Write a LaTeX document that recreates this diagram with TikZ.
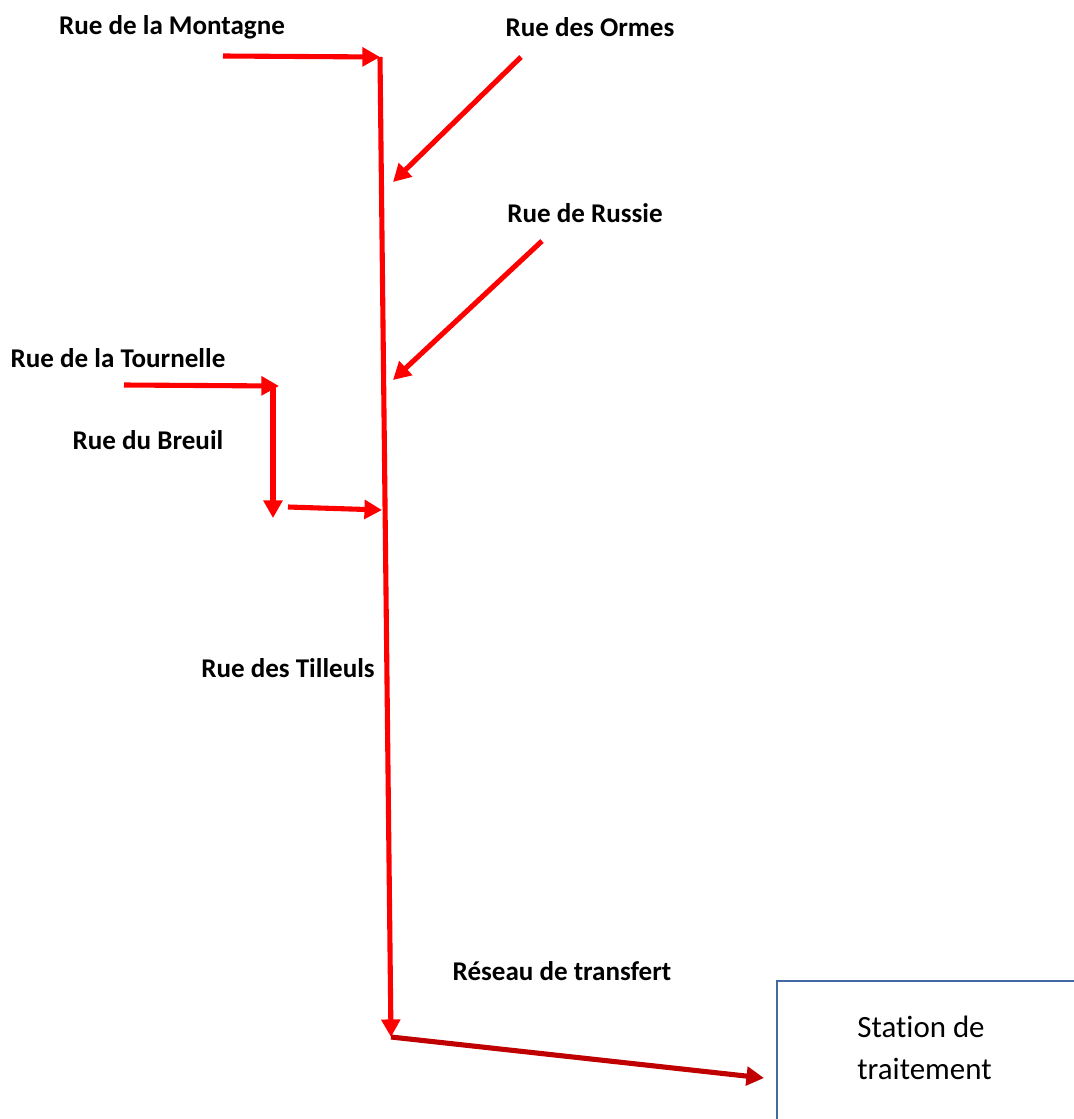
\documentclass[tikz,border=0pt]{standalone}
\usepackage{fontspec}
\setmainfont[Ligatures=NoCommon]{Carlito}
\usetikzlibrary{arrows.meta}
\definecolor{rouge}{RGB}{255,0,0}
\definecolor{rougefonce}{RGB}{192,0,0}
\definecolor{bleubord}{RGB}{68,104,164}
\tikzset{
	rue/.style={font=\bfseries\fontsize{15.4}{17}\selectfont, inner sep=0pt},
	egout/.style={draw=rouge, line width=2.9pt, -{Triangle[length=10pt,width=10.5pt]}},
	transfert/.style={draw=rougefonce, line width=2.9pt, -{Triangle[length=10pt,width=10.5pt]}}
}
\begin{document}
\begin{tikzpicture}[x=0.02cm, y=-0.02cm]
	\useasboundingbox (0,0) rectangle (1074,1119);
	
	% noms des rues
	\node[rue] (montagne) at (172,27) {Rue de la Montagne};
	\node[rue] (ormes) at (590,27) {Rue des Ormes};
	\node[rue] (russie) at (585,213) {Rue de Russie};
	\node[rue] (tournelle) at (118,358) {Rue de la Tournelle};
	\node[rue] (breuil) at (148,440) {Rue du Breuil};
	\node[rue] (tilleuls) at (288,668) {Rue des Tilleuls};
	\node[rue] (reseau) at (562,971) {Réseau de transfert};
	
	% points du reseau
	\coordinate (haut) at (380,57);
	\coordinate (bas) at (391,1037);
	\coordinate (montagneA) at (223,56);
	\coordinate (ormesA) at (521,57);
	\coordinate (ormesB) at (393,182);
	\coordinate (russieA) at (542,241);
	\coordinate (russieB) at (393,380);
	\coordinate (tournelleA) at (124,385);
	\coordinate (tournelleB) at (279,386);
	\coordinate (coude) at (273,386);
	\coordinate (breuilA) at (273,518);
	\coordinate (breuilB) at (288,507);
	\coordinate (breuilC) at (382,510);
	\coordinate (arrivee) at (764,1078);
	
	% station
	\draw[bleubord, line width=0.8pt] (1080,981) -- (777,981) -- (777,1125);
	\node[font=\fontsize{17.6}{20}\selectfont, align=left, anchor=west, inner sep=0pt] (station) at (857,1048) {Station de\\[4pt]traitement};
	
	% conduites
	\draw[egout] (montagneA) -- (haut);
	\draw[egout] (haut) -- (bas);
	\draw[egout] (ormesA) -- (ormesB);
	\draw[egout] (russieA) -- (russieB);
	\draw[egout] (tournelleA) -- (tournelleB);
	\draw[egout] (coude) -- (breuilA);
	\draw[egout] (breuilB) -- (breuilC);
	\draw[transfert] (bas) -- (arrivee);
	
\end{tikzpicture}
\end{document}
